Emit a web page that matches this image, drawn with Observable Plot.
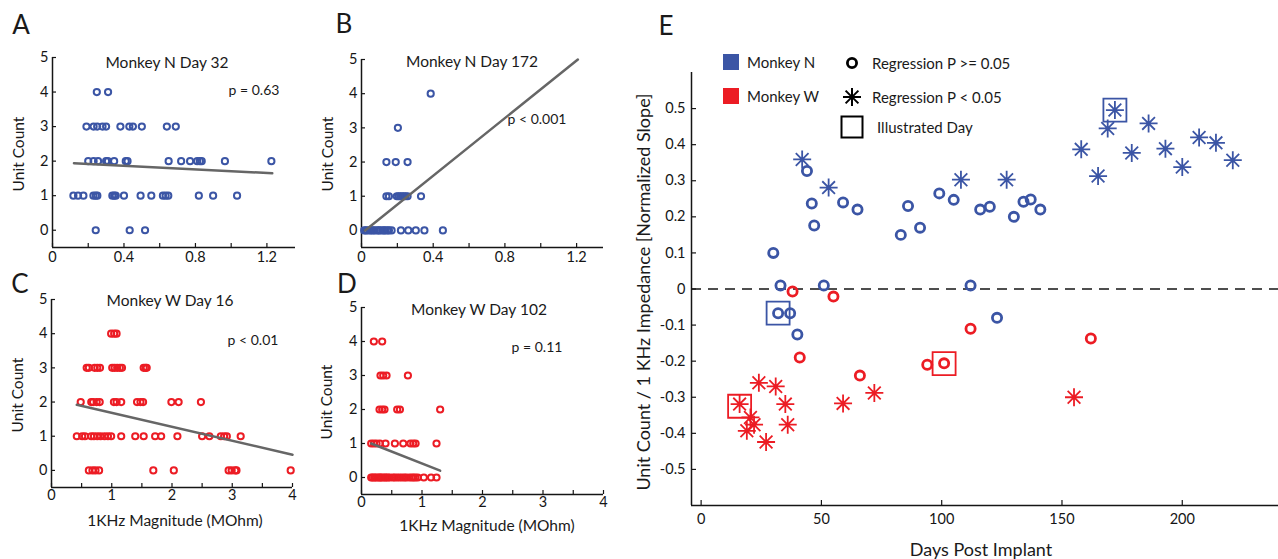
<!DOCTYPE html>
<html><head><meta charset="utf-8">
<script src="https://cdn.jsdelivr.net/npm/d3@7"></script>
<script src="https://cdn.jsdelivr.net/npm/@observablehq/plot@0.6"></script>
<style>
body{margin:0;background:#fff;}
#root{position:relative;width:1278px;height:559px;overflow:hidden;font-family:Lato,"Open Sans",sans-serif;color:#1a1a1a;}
.w{position:absolute;}
.t{position:absolute;white-space:nowrap;transform:translate(-50%,-50%);line-height:1;}
.tl{position:absolute;white-space:nowrap;transform:translate(0,-50%);line-height:1;}
.rot{position:absolute;white-space:nowrap;transform:translate(-50%,-50%) rotate(-90deg);line-height:1;}
.letter{font-size:26px;}
.ttl{font-size:15.5px;}
.pv{font-size:14px;}
.ax{font-size:15.5px;}
.axw{font-size:18px;}
.lg{font-size:15px;}
</style></head><body><div id="root"></div>
<script>
// ---------- Panel A: Monkey N Day 32 (impedance values per unit count) ----------
const aImp4 = [0.248, 0.311];
const aImp3 = [0.19, 0.23, 0.25, 0.28, 0.30, 0.38, 0.43, 0.45, 0.50, 0.64, 0.69];
const aImp2 = [0.20, 0.23, 0.255, 0.30, 0.31, 0.345, 0.41, 0.42, 0.65, 0.72, 0.77, 0.81, 0.825, 0.835, 0.965, 1.225];
const aImp1 = [0.117, 0.143, 0.173, 0.229, 0.242, 0.251, 0.335, 0.345, 0.354, 0.40, 0.493, 0.553, 0.618, 0.633, 0.648, 0.819, 0.899, 1.033];
const aImp0 = [0.242, 0.432, 0.518];
const aFitX = [0.12, 1.23], aFitY = [1.94, 1.65];

// ---------- Panel B: Monkey N Day 172 ----------
const bImp4 = [0.386];
const bImp3 = [0.203];
const bImp2 = [0.139, 0.191, 0.257];
const bImp1 = [0.139, 0.153, 0.197, 0.207, 0.216, 0.226, 0.236, 0.245, 0.257, 0.332];
const bImp0 = [0.015, 0.024, 0.033, 0.047, 0.055, 0.066, 0.074, 0.088, 0.096, 0.104, 0.117, 0.126, 0.133, 0.146, 0.153, 0.168, 0.22, 0.261, 0.303, 0.351, 0.454];
const bFitX = [0.02, 1.207], bFitY = [0.0, 5.0];

// ---------- Panel C: Monkey W Day 16 ----------
const cImp4 = [0.99, 1.04, 1.08];
const cImp3 = [0.584, 0.62, 0.716, 0.76, 0.805, 1.008, 1.047, 1.09, 1.135, 1.17, 1.53, 1.56, 1.58];
const cImp2 = [0.485, 0.66, 0.69, 0.75, 0.80, 1.036, 1.08, 1.157, 1.42, 1.477, 1.52, 1.99, 2.11, 2.48];
const cImp1 = [0.42, 0.51, 0.556, 0.66, 0.705, 0.76, 0.815, 0.88, 0.937, 0.99, 1.157, 1.39, 1.53, 1.72, 1.82, 2.09, 2.50, 2.62, 2.81, 2.865, 2.91, 3.14];
const cImp0 = [0.62, 0.68, 0.73, 0.79, 1.69, 2.03, 2.94, 2.99, 3.05, 3.07, 3.97];
const cFitX = [0.42, 4.0], cFitY = [1.92, 0.46];

// ---------- Panel D: Monkey W Day 102 ----------
const dImp4 = [0.204, 0.342];
const dImp3 = [0.314, 0.359, 0.414, 0.767];
const dImp2 = [0.298, 0.342, 0.38, 0.59, 0.635, 1.30];
const dImp1 = [0.16, 0.204, 0.248, 0.303, 0.397, 0.552, 0.69, 0.81, 0.855, 0.894, 1.24];
const dImp0 = [0.16, 0.18, 0.21, 0.23, 0.26, 0.29, 0.31, 0.33, 0.36, 0.39, 0.41, 0.44, 0.47, 0.52, 0.55, 0.59, 0.63, 0.67, 0.71, 0.74, 0.79, 0.83, 0.86, 0.89, 0.93, 1.03, 1.15, 1.24];
const dFitX = [0.16, 1.30], dFitY = [1.0, 0.2];

// ---------- Panel E: normalized slope vs days post implant ----------
const nCircDays = [30, 33, 32, 37, 40, 44, 46, 47, 51, 59, 65, 83, 86, 91, 99, 105, 112, 116, 120, 123, 130, 134, 137, 141];
const nCircVals = [0.10, 0.01, -0.067, -0.067, -0.126, 0.327, 0.237, 0.176, 0.01, 0.24, 0.22, 0.15, 0.23, 0.17, 0.265, 0.247, 0.01, 0.22, 0.228, -0.08, 0.20, 0.242, 0.248, 0.22];
const nStarDays = [42, 53, 108, 127, 158, 165, 169, 172, 179, 186, 193, 200, 207, 214, 221];
const nStarVals = [0.359, 0.281, 0.303, 0.303, 0.387, 0.313, 0.445, 0.496, 0.377, 0.459, 0.389, 0.338, 0.42, 0.405, 0.357];
const wCircDays = [38, 55, 41, 66, 94, 101, 112, 162];
const wCircVals = [-0.007, -0.021, -0.19, -0.24, -0.21, -0.206, -0.11, -0.137];
const wStarDays = [16, 24, 31, 35, 36, 20.5, 22, 19, 27, 59, 72, 155];
const wStarVals = [-0.319, -0.26, -0.27, -0.319, -0.376, -0.356, -0.376, -0.393, -0.424, -0.317, -0.288, -0.30];
const illDays = [32, 172, 16, 101];
const illVals = [-0.067, 0.496, -0.325, -0.207];
const illMonkey = ["N", "N", "W", "W"];

// ---------- tick values ----------
const abTicks = [0, 0.2, 0.4, 0.6, 0.8, 1.0, 1.2];
const abLabels = [0, 0.4, 0.8, 1.2];
const cdTicks = [0, 0.5, 1, 1.5, 2, 2.5, 3, 3.5, 4];
const cdLabels = [0, 1, 2, 3, 4];
const countTicks = [0, 1, 2, 3, 4, 5];
const eXTicks = [0, 50, 100, 150, 200];
const eYTicks = [-0.5, -0.4, -0.3, -0.2, -0.1, 0, 0.1, 0.2, 0.3, 0.4, 0.5];

const BLUE = "#3b55a5", RED = "#ec1c24", GRAY = "#666666", INK = "#151515";
const FONT = "Lato, 'Open Sans', sans-serif";

function table(levels) {
  return levels.flatMap(([count, imps]) => imps.map(x => ({x, y: count})));
}
function pairRows(xs, ys) { return xs.map((x, i) => ({x, y: ys[i]})); }

const asterisk = {
  draw(ctx, size) {
    const r = Math.sqrt(size / Math.PI), d = r * Math.SQRT1_2;
    ctx.moveTo(-r, 0); ctx.lineTo(r, 0);
    ctx.moveTo(0, -r); ctx.lineTo(0, r);
    ctx.moveTo(-d, -d); ctx.lineTo(d, d);
    ctx.moveTo(-d, d); ctx.lineTo(d, -d);
  }
};
const squareSym = {
  draw(ctx, size) {
    const r = Math.sqrt(size / Math.PI);
    ctx.moveTo(-r, -r); ctx.lineTo(r, -r); ctx.lineTo(r, r); ctx.lineTo(-r, r); ctx.closePath();
  }
};

const fmt = d => String(d);

function axes({xDomain, yDomain, xTicks, xLabels, yTicks, yLabels, xPad, yPad, tick}) {
  return [
    Plot.ruleX([xDomain[0]], {stroke: INK, strokeWidth: 1.5}),
    Plot.ruleY([yDomain[0]], {stroke: INK, strokeWidth: 1.5}),
    Plot.axisX({ticks: xTicks, tickSize: -tick, fill: "none", stroke: INK, strokeWidth: 1.2, label: null}),
    Plot.axisX({ticks: xLabels, tickSize: 0, tickPadding: xPad, tickFormat: fmt, fill: INK, label: null}),
    Plot.axisY({ticks: yTicks, tickSize: -tick, fill: "none", stroke: INK, strokeWidth: 1.2, label: null}),
    Plot.axisY({ticks: yLabels, tickSize: 0, tickPadding: yPad, tickFormat: fmt, fill: INK, label: null})
  ];
}

const root = document.getElementById("root");
function place(el, left, top, width, height) {
  const w = document.createElement("div");
  w.className = "w";
  w.style.left = left + "px"; w.style.top = top + "px";
  w.style.width = width + "px"; w.style.height = height + "px";
  w.appendChild(el);
  root.appendChild(w);
}

function scatterPanel({left, top, width, height, mt, mb, ml, mr, xDomain, xTicks, xLabels, data, color, fit, xPad}) {
  const yDomain = [-0.5, 5];
  const p = Plot.plot({
    width, height, marginTop: mt, marginBottom: mb, marginLeft: ml, marginRight: mr,
    x: {domain: xDomain, label: null}, y: {domain: yDomain, label: null},
    style: {fontFamily: FONT, fontSize: "14.5px", color: INK, background: "transparent", overflow: "visible"},
    marks: [
      ...axes({xDomain, yDomain, xTicks, xLabels, yTicks: countTicks, yLabels: countTicks, xPad, yPad: 4, tick: 4}),
      Plot.dot(data, {x: "x", y: "y", r: 3.1, stroke: color, strokeWidth: 2, fill: "none"}),
      Plot.line(fit, {x: "x", y: "y", stroke: GRAY, strokeWidth: 2.5})
    ]
  });
  place(p, left, top, width, height);
}

scatterPanel({left: 0, top: 0, width: 310, height: 270, mt: 57, mb: 23, ml: 52, mr: 15,
  xDomain: [0, 1.36], xTicks: abTicks, xLabels: abLabels, color: BLUE, xPad: 4,
  data: table([[4, aImp4], [3, aImp3], [2, aImp2], [1, aImp1], [0, aImp0]]), fit: pairRows(aFitX, aFitY)});
scatterPanel({left: 310, top: 0, width: 310, height: 270, mt: 59, mb: 23, ml: 51, mr: 17,
  xDomain: [0, 1.35], xTicks: abTicks, xLabels: abLabels, color: BLUE, xPad: 4,
  data: table([[4, bImp4], [3, bImp3], [2, bImp2], [1, bImp1], [0, bImp0]]), fit: pairRows(bFitX, bFitY)});
scatterPanel({left: 0, top: 270, width: 310, height: 289, mt: 29, mb: 72, ml: 51, mr: 18,
  xDomain: [0, 4], xTicks: cdTicks, xLabels: cdLabels, color: RED, xPad: 2,
  data: table([[4, cImp4], [3, cImp3], [2, cImp2], [1, cImp1], [0, cImp0]]), fit: pairRows(cFitX, cFitY)});
scatterPanel({left: 310, top: 270, width: 310, height: 289, mt: 37, mb: 65, ml: 51, mr: 17,
  xDomain: [0, 4], xTicks: cdTicks, xLabels: cdLabels, color: RED, xPad: 2,
  data: table([[4, dImp4], [3, dImp3], [2, dImp2], [1, dImp1], [0, dImp0]]), fit: pairRows(dFitX, dFitY)});

// Panel E
{
  const xDomain = [-4, 240], yDomain = [-0.6, 0.6];
  const ill = illDays.map((d, i) => ({x: d, y: illVals[i], m: illMonkey[i]}));
  const p = Plot.plot({
    width: 658, height: 559, marginTop: 72, marginBottom: 54, marginLeft: 71, marginRight: 0,
    x: {domain: xDomain, label: null}, y: {domain: yDomain, label: null},
    color: {domain: ["N", "W"], range: [BLUE, RED]},
    style: {fontFamily: FONT, fontSize: "14.5px", color: INK, background: "transparent", overflow: "visible"},
    marks: [
      Plot.ruleY([0], {stroke: INK, strokeWidth: 1.5, strokeDasharray: "10,7"}),
      ...axes({xDomain, yDomain, xTicks: eXTicks, xLabels: eXTicks, yTicks: eYTicks, yLabels: eYTicks, xPad: 8, yPad: 6, tick: 5}),
      Plot.dot(pairRows(wStarDays, wStarVals), {x: "x", y: "y", symbol: asterisk, r: 9, stroke: RED, strokeWidth: 1.8}),
      Plot.dot(pairRows(nStarDays, nStarVals), {x: "x", y: "y", symbol: asterisk, r: 9, stroke: BLUE, strokeWidth: 1.8}),
      Plot.dot(pairRows(wCircDays, wCircVals), {x: "x", y: "y", r: 4.6, stroke: RED, strokeWidth: 2.8, fill: "none"}),
      Plot.dot(pairRows(nCircDays, nCircVals), {x: "x", y: "y", r: 4.6, stroke: BLUE, strokeWidth: 2.8, fill: "none"}),
      Plot.dot(ill, {x: "x", y: "y", symbol: squareSym, r: 11.5, stroke: "m", strokeWidth: 1.8, fill: "none"})
    ]
  });
  place(p, 620, 0, 658, 559);
}

// Legend symbols for E
{
  const ns = "http://www.w3.org/2000/svg";
  const svg = document.createElementNS(ns, "svg");
  svg.setAttribute("width", 310); svg.setAttribute("height", 100);
  svg.innerHTML =
    `<rect x="8" y="9" width="16" height="16" fill="${BLUE}"/>` +
    `<rect x="8" y="43" width="16" height="16" fill="${RED}"/>` +
    `<circle cx="137" cy="18" r="4.6" fill="none" stroke="#000" stroke-width="2.8"/>` +
    `<g stroke="#000" stroke-width="2" transform="translate(137,52)"><line x1="-9" y1="0" x2="9" y2="0"/><line x1="0" y1="-9" x2="0" y2="9"/><line x1="-6.4" y1="-6.4" x2="6.4" y2="6.4"/><line x1="-6.4" y1="6.4" x2="6.4" y2="-6.4"/></g>` +
    `<rect x="126.5" y="71.5" width="21" height="21" fill="none" stroke="#000" stroke-width="2"/>`;
  place(svg, 715, 45, 310, 100);
}

// Texts
const texts = [
  ["t letter", 21, 24, "A"], ["t letter", 344, 23, "B"], ["t letter", 20, 283, "C"], ["t letter", 347, 283, "D"], ["t letter", 666, 25, "E"],
  ["t ttl", 167, 63, "Monkey N Day 32"], ["t ttl", 472, 62, "Monkey N Day 172"],
  ["t ttl", 170, 301, "Monkey W Day 16"], ["t ttl", 479, 310, "Monkey W Day 102"],
  ["t pv", 254, 90, "p = 0.63"], ["t pv", 537, 119, "p < 0.001"],
  ["t pv", 253, 340, "p < 0.01"], ["t pv", 537, 347, "p = 0.11"],
  ["rot ax", 19, 154, "Unit Count"], ["rot ax", 328, 154, "Unit Count"],
  ["rot ax", 18, 395, "Unit Count"], ["rot ax", 327, 402, "Unit Count"],
  ["t ax", 175, 521, "1KHz Magnitude (MOhm)"], ["t ax", 487, 526, "1KHz Magnitude (MOhm)"],
  ["rot axw", 643, 292, "Unit Count / 1 KHz Impedance [Normalized Slope]"],
  ["t axw", 981, 549, "Days Post Implant"],
  ["tl lg", 747, 62, "Monkey N"], ["tl lg", 747, 96, "Monkey W"],
  ["tl lg", 872, 63, "Regression P >= 0.05"], ["tl lg", 872, 97, "Regression P < 0.05"],
  ["tl lg", 877, 127, "Illustrated Day"]
];
for (const [cls, x, y, s] of texts) {
  const d = document.createElement("div");
  d.className = cls; d.style.left = x + "px"; d.style.top = y + "px";
  d.textContent = s;
  root.appendChild(d);
}
</script></body></html>
